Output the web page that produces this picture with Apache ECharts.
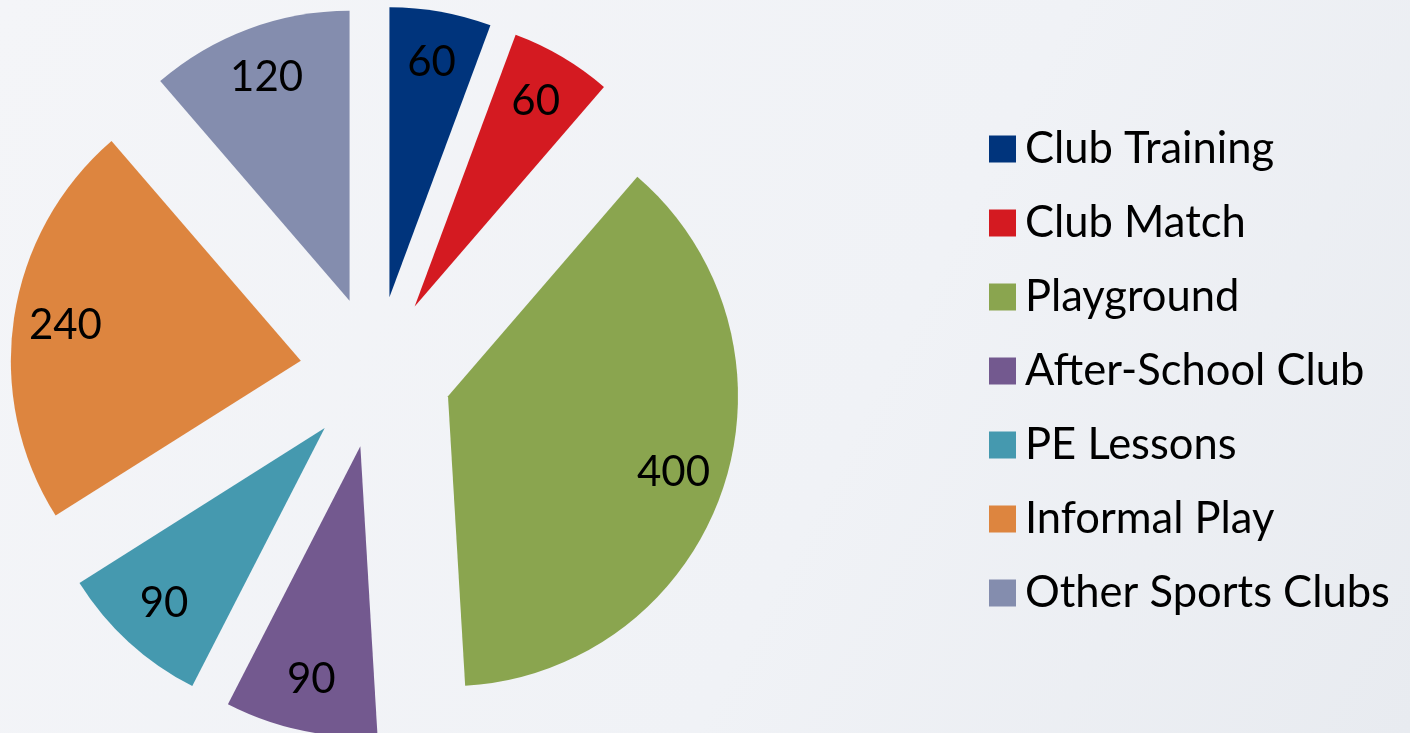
<!DOCTYPE html>
<html>
<head>
<meta charset="utf-8">
<script src="https://cdn.jsdelivr.net/npm/echarts@6/dist/echarts.min.js"></script>
<style>
  html, body { margin: 0; padding: 0; }
  #pie-chart { width: 1410px; height: 733px; }
</style>
</head>
<body>
<div id="pie-chart"></div>
<script>
// chart data
const categories = ["Club Training", "Club Match", "Playground", "After-School Club", "PE Lessons", "Informal Play", "Other Sports Clubs"];
const values = [60, 60, 400, 90, 90, 240, 120];
const colors = ["#00347c", "#d41a21", "#8aa54f", "#73598f", "#4599af", "#dd853f", "#848dae"];

const fontFamily = "Lato, 'Open Sans', sans-serif";

let myChart = echarts.init(document.getElementById("pie-chart"));

const pieData = categories.map(function (name, i) {
  return {
    name: name,
    value: values[i],
    selected: true,
    itemStyle: { color: colors[i] }
  };
});

let option = {
  animation: false,
  backgroundColor: {
    type: "linear",
    x: 0, y: 0, x2: 1, y2: 1,
    colorStops: [
      { offset: 0, color: "#f4f5f8" },
      { offset: 0.6, color: "#f0f2f6" },
      { offset: 1, color: "#e8ebf0" }
    ]
  },
  legend: {
    orient: "vertical",
    left: 984,
    top: 122,
    itemWidth: 27,
    itemHeight: 27,
    itemGap: 30,
    icon: "rect",
    selectedMode: false,
    data: categories,
    textStyle: {
      color: "#000",
      fontSize: 43.5,
      lineHeight: 44,
      fontFamily: fontFamily,
      padding: [0, 0, 0, 4]
    }
  },
  series: [
    {
      name: "slices",
      type: "pie",
      center: [376, 372],
      radius: [0, 290],
      startAngle: 90,
      selectedMode: "multiple",
      selectedOffset: 76,
      silent: true,
      label: { show: false },
      labelLine: { show: false },
      emphasis: { disabled: true },
      data: pieData
    },
    {
      name: "labels",
      type: "pie",
      center: [376, 372],
      radius: [180, 290],
      startAngle: 90,
      selectedMode: "multiple",
      selectedOffset: 76,
      silent: true,
      itemStyle: { color: "rgba(0,0,0,0)" },
      label: {
        show: true,
        position: "inside",
        formatter: "{c}",
        color: "#000",
        fontSize: 42,
        fontFamily: fontFamily
      },
      labelLine: { show: false },
      emphasis: { disabled: true },
      data: categories.map(function (name, i) {
        return { name: name, value: values[i], selected: true };
      })
    }
  ]
};

myChart.setOption(option);
window.onresize = function () {
  myChart.resize();
};
</script>
</body>
</html>
